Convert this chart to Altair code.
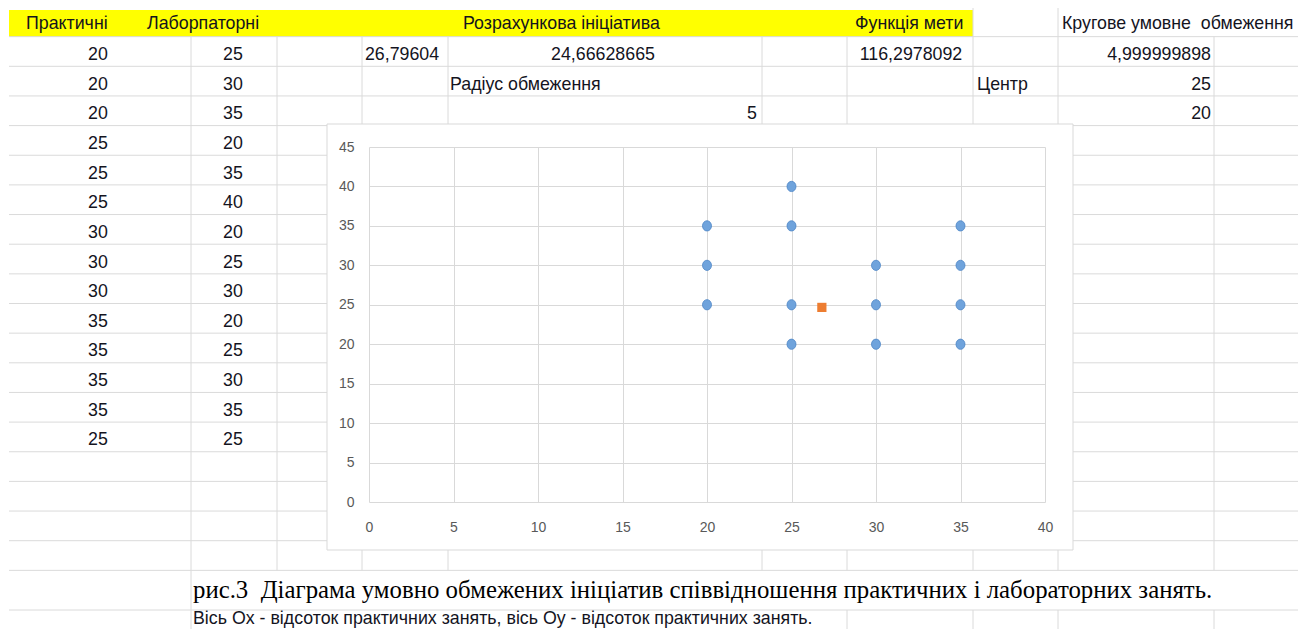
import altair as alt
import pandas as pd

# ---------------- data ----------------
practical = [20, 20, 20, 25, 25, 25, 30, 30, 30, 35, 35, 35, 35, 25]
laboratory = [25, 30, 35, 20, 35, 40, 20, 25, 30, 20, 25, 30, 35, 25]
optimum_practical = [26.79604]
optimum_laboratory = [24.66628665]
x_ticks = [0, 5, 10, 15, 20, 25, 30, 35, 40]
y_ticks = [0, 5, 10, 15, 20, 25, 30, 35, 40, 45]

header_practical = "Практичні"
header_laboratory = "Лаборпаторні"
header_calc = "Розрахункова ініціатива"
header_goal = "Функція мети"
header_constraint = "Кругове умовне \u00a0обмеження"
calc_values = ["26,79604", "24,66628665"]
goal_value = "116,2978092"
constraint_value = "4,999999898"
radius_label = "Радіус обмеження"
radius_value = "5"
center_label = "Центр"
center_values = ["25", "20"]
caption = "рис.3 \u00a0Діаграма умовно обмежених ініціатив співвідношення практичних і лабораторних занять."
note = "Вісь Ox - відсоток практичних занять, вісь Oy - відсоток практичних занять."

# ---------------- layout of the surrounding worksheet (page pixels) ----------------
OX, OY = 369, 147            # page position of the plot area's top-left corner
PLOT_W, PLOT_H = 676, 355
PAGE_R, PAGE_B = 1298, 629   # right / bottom edge of the drawable canvas
COL_EDGES = [191, 277, 362, 448, 762, 847, 973, 1058, 1214]
ROW_TOP, ROW_H = 7, 29.65
ROW_EDGES = [ROW_TOP + ROW_H * k for k in range(20)] + [610]
FRAME = (327, 124, 1073, 550)  # chart-area frame: x0, y0, x1, y1
GRID_C = "#dadada"
SANS = "Liberation Sans"
SHEET_FS = 17.8


def px(v):
    return v - OX


def py(v):
    return v - OY


def row_center(k):
    return ROW_TOP + ROW_H * k + ROW_H / 2 + 3.5


# worksheet grid segments, hidden where the chart frame sits or text overflows
segs = []
fx0, fy0, fx1, fy1 = FRAME
for y in ROW_EDGES[1:]:
    if fy0 < y < fy1:
        segs += [(9, y, fx0, y), (fx1, y, PAGE_R, y)]
    else:
        segs.append((9, y, PAGE_R, y))

bands = [(8, ROW_EDGES[1], {973, 1058})]
bands += [(ROW_EDGES[1], ROW_EDGES[19], set(COL_EDGES))]
bands += [(ROW_EDGES[19], 610, {191})]
bands += [(610, PAGE_B, {191, 847, 973, 1058, 1214})]
for cx in COL_EDGES:
    for a, b, visible in bands:
        if cx not in visible:
            continue
        if fx0 < cx < fx1:
            if a < fy0:
                segs.append((cx, a, cx, min(b, fy0)))
            if b > fy1:
                segs.append((cx, max(a, fy1), cx, b))
        else:
            segs.append((cx, a, cx, b))

seg_df = pd.DataFrame(
    [(px(a), py(b), px(c), py(d)) for a, b, c, d in segs], columns=["x", "y", "x2", "y2"]
)

# worksheet texts
cells = [
    (header_practical, 26, 23.5, "left"),
    (header_laboratory, 147, 23.5, "left"),
    (header_calc, 463, 23.5, "left"),
    (header_goal, 855, 23.5, "left"),
    (header_constraint, 1062, 23.5, "left"),
    (calc_values[0], 402, row_center(1), "center"),
    (calc_values[1], 603, row_center(1), "center"),
    (goal_value, 911, row_center(1), "center"),
    (constraint_value, 1211, row_center(1), "right"),
    (radius_label, 450, row_center(2), "left"),
    (center_label, 977, row_center(2), "left"),
    (center_values[0], 1211, row_center(2), "right"),
    (radius_value, 757, row_center(3), "right"),
    (center_values[1], 1211, row_center(3), "right"),
    (note, 193, 619, "left"),
]
for i, (p, l) in enumerate(zip(practical, laboratory)):
    cells.append((str(p), 98, row_center(i + 1), "center"))
    cells.append((str(l), 233, row_center(i + 1), "center"))
cell_df = pd.DataFrame(
    [(t, px(x), py(y), a) for t, x, y, a in cells], columns=["text", "x", "y", "align"]
)

X_PIX = alt.X("x:Q", scale=None, axis=None)
Y_PIX = alt.Y("y:Q", scale=None, axis=None)

yellow = alt.Chart(
    pd.DataFrame({"x": [px(9)], "x2": [px(973)], "y": [py(10)], "y2": [ROW_EDGES[1] - OY]})
).mark_rect(color="#FFFF00").encode(x=X_PIX, x2="x2:Q", y=Y_PIX, y2="y2:Q")

sheet_grid = alt.Chart(seg_df).mark_rule(color=GRID_C, strokeWidth=1).encode(
    x=X_PIX, y=Y_PIX, x2="x2:Q", y2="y2:Q"
)

frame = alt.Chart(
    pd.DataFrame({"x": [px(fx0)], "x2": [px(fx1)], "y": [py(fy0)], "y2": [py(fy1)]})
).mark_rect(fill="white", fillOpacity=0, stroke="#d9d9d9", strokeWidth=1).encode(
    x=X_PIX, x2="x2:Q", y=Y_PIX, y2="y2:Q"
)

text_layers = []
for a in ["left", "center", "right"]:
    text_layers.append(
        alt.Chart(cell_df)
        .transform_filter(alt.datum.align == a)
        .mark_text(align=a, baseline="middle", font=SANS, fontSize=SHEET_FS, color="#14141e")
        .encode(x=X_PIX, y=Y_PIX, text="text:N")
    )

caption_layer = alt.Chart(
    pd.DataFrame({"text": [caption], "x": [px(193)], "y": [py(591)]})
).mark_text(
    align="left", baseline="middle", font="Liberation Serif", fontSize=24.8, color="#000000"
).encode(x=X_PIX, y=Y_PIX, text="text:N")

# ---------------- the scatter chart ----------------
axis_common = dict(
    grid=True,
    gridColor="#d9d9d9",
    gridWidth=1,
    domain=False,
    ticks=False,
    tickSize=0,
    labelFont=SANS,
    labelFontSize=14,
    labelColor="#595959",
    labelFlush=False,
    labelOverlap=False,
    title=None,
)
x_enc = alt.X(
    "practical:Q",
    scale=alt.Scale(domain=[0, 40], nice=False, zero=False),
    axis=alt.Axis(values=x_ticks, labelPadding=18, **axis_common),
)
y_enc = alt.Y(
    "laboratory:Q",
    scale=alt.Scale(domain=[0, 45], nice=False, zero=False),
    axis=alt.Axis(values=y_ticks, labelPadding=15, **axis_common),
)

ELLIPSE = "M0,-1A0.88,1,0,1,1,0,1A0.88,1,0,1,1,0,-1Z"

points = alt.Chart(
    pd.DataFrame({"practical": practical, "laboratory": laboratory})
).mark_point(
    shape=ELLIPSE, filled=True, size=105, fill="#6FA3DC", stroke="#4F86C6", strokeWidth=0.8, opacity=1
).encode(x=x_enc, y=y_enc)

optimum = alt.Chart(
    pd.DataFrame({"practical": optimum_practical, "laboratory": optimum_laboratory})
).mark_point(shape="square", filled=True, size=85, color="#ED7D31", opacity=1).encode(
    x=x_enc, y=y_enc
)

chart = (
    alt.layer(yellow, sheet_grid, frame, *text_layers, caption_layer, points, optimum)
    .properties(
        width=PLOT_W,
        height=PLOT_H,
        autosize=alt.AutoSizeParams(type="none"),
        padding={"left": OX - 8, "top": OY - 8, "right": PAGE_R - OX - PLOT_W, "bottom": PAGE_B - OY - PLOT_H},
        background="white",
    )
    .configure_view(strokeWidth=0)
)

chart.save("out.html", embed_options={"renderer": "svg", "actions": False})
